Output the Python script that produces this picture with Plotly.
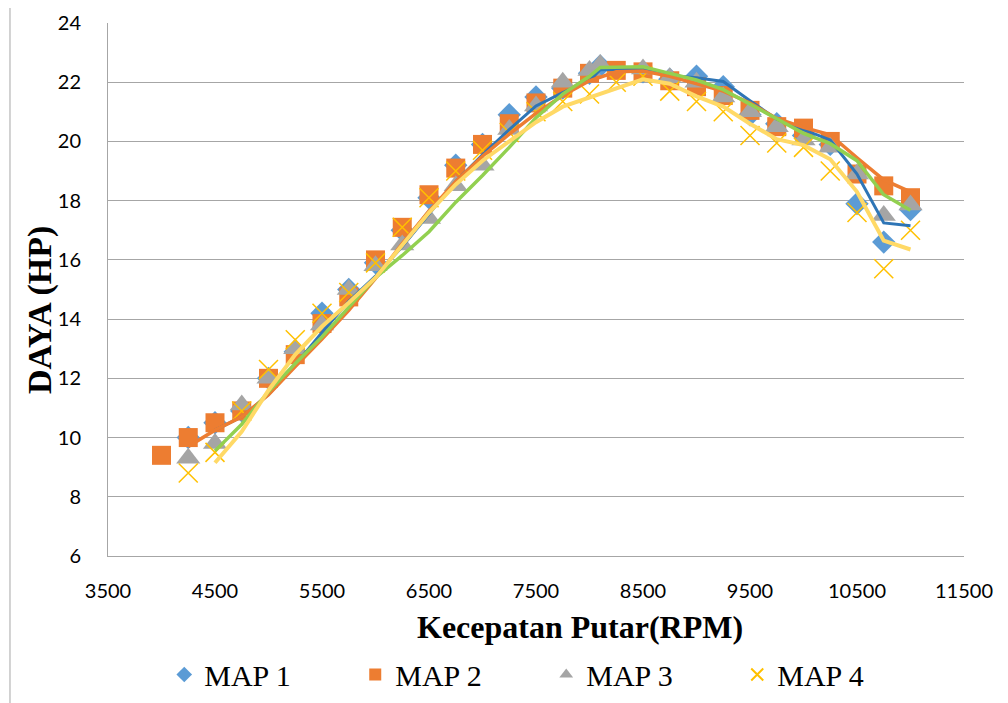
import plotly.graph_objects as go

# RPM values
rpm_map1 = [4250, 4500, 4750, 5000, 5250, 5500, 5750, 6000, 6250, 6500, 6750, 7000, 7250, 7500, 7750, 8000, 8100,
            8500, 8750, 9000, 9250, 9500, 9750, 10000, 10250, 10500, 10750, 11000]
hp_map1 = [10.0, 10.5, 10.9, 12.0, 12.9, 14.2, 15.0, 15.9, 17.0, 18.1, 19.2, 19.9, 20.9, 21.5, 21.8, 22.3, 22.55,
           22.35, 22.1, 22.2, 21.85, 20.9, 20.6, 20.2, 19.9, 17.9, 16.6, 17.7]

rpm_map2 = [4000, 4250, 4500, 4750, 5000, 5250, 5500, 5750, 6000, 6250, 6500, 6750, 7000, 7250, 7500, 7750, 8000,
            8250, 8500, 8750, 9000, 9250, 9500, 9750, 10000, 10250, 10500, 10750, 11000]
hp_map2 = [9.4, 10.0, 10.5, 10.9, 12.0, 12.8, 13.85, 14.75, 16.0, 17.1, 18.2, 19.1, 19.9, 20.6, 21.3, 21.8, 22.3,
           22.4, 22.35, 22.05, 21.85, 21.55, 21.05, 20.5, 20.45, 20.0, 18.9, 18.5, 18.1]

rpm_map3 = [4250, 4500, 4750, 5000, 5250, 5500, 5750, 6000, 6250, 6500, 6750, 7000, 7250, 7500, 7750, 8000, 8100,
            8500, 8750, 9000, 9250, 9500, 9750, 10000, 10250, 10500, 10750, 11000]
hp_map3 = [9.3, 9.8, 11.1, 12.0, 13.0, 13.8, 15.0, 15.8, 16.5, 17.4, 18.5, 19.2, 20.4, 21.2, 22.0, 22.4, 22.6,
           22.45, 22.15, 22.0, 21.5, 21.0, 20.5, 20.05, 19.8, 18.9, 17.5, 17.85]

rpm_map4 = [4250, 4500, 4750, 5000, 5250, 5500, 5750, 6000, 6250, 6500, 6750, 7000, 7250, 7500, 7750, 8000, 8250,
            8500, 8750, 9000, 9250, 9500, 9750, 10000, 10250, 10500, 10750, 11000]
hp_map4 = [8.8, 9.5, 10.9, 12.3, 13.3, 14.2, 14.9, 15.9, 17.1, 18.1, 19.0, 19.7, 20.3, 21.0, 21.35, 21.6, 22.0,
           22.2, 21.7, 21.35, 21.0, 20.2, 19.95, 19.8, 19.0, 17.6, 15.7, 17.0]

series_names = ["MAP 1", "MAP 2", "MAP 3", "MAP 4"]
x_ticks = [3500, 4500, 5500, 6500, 7500, 8500, 9500, 10500, 11500]
x_tick_labels = ["3500", "4500", "5500", "6500", "7500", "8500", "9500", "10500", "11500"]
y_ticks = [6, 8, 10, 12, 14, 16, 18, 20, 22, 24]
x_title = "<b>Kecepatan Putar(RPM)</b>"
y_title = "<b>DAYA (HP)</b>"


def moving_average(xs, ys, period=2):
    mx, my = [], []
    for i in range(period - 1, len(xs)):
        mx.append(xs[i])
        my.append(sum(ys[i - period + 1:i + 1]) / period)
    return mx, my


series = [
    (rpm_map1, hp_map1, dict(symbol="diamond", size=18, color="#5B9BD5"), "#2E75B6", 3),
    (rpm_map2, hp_map2, dict(symbol="square", size=19, color="#ED7D31"), "#ED7D31", 3.5),
    (rpm_map3, hp_map3, dict(symbol="triangle-up", size=21, color="#A5A5A5"), "#92D050", 3.5),
    (rpm_map4, hp_map4, dict(symbol="x-thin-open", size=19, color="#FFC000", line=dict(width=1.5, color="#FFC000")),
     "#FFD966", 4),
]

fig = go.Figure()
for (xs, ys, mk, lc, lw), name in zip(series, series_names):
    fig.add_trace(go.Scatter(x=xs, y=ys, mode="markers", name=name, marker=mk))
for (xs, ys, mk, lc, lw), name in zip(series, series_names):
    mx, my = moving_average(xs, ys)
    fig.add_trace(go.Scatter(x=mx, y=my, mode="lines", showlegend=False,
                             line=dict(color=lc, width=lw), hoverinfo="skip"))

serif = "Liberation Serif, Times New Roman, serif"

fig.update_layout(
    width=1008, height=703,
    paper_bgcolor="white", plot_bgcolor="white",
    margin=dict(l=100, r=52, t=15, b=155, autoexpand=False),
    font=dict(family="Lato, Carlito, sans-serif", size=20, color="black"),
    xaxis=dict(range=[3500, 11500], tickvals=x_ticks, ticktext=x_tick_labels, showgrid=False,
               showline=True, linecolor="#A6A6A6", linewidth=1, ticks="", zeroline=False,
               automargin=False, ticklabelstandoff=17, tickfont=dict(size=20)),
    yaxis=dict(range=[6, 24], tickvals=y_ticks, showgrid=True, gridcolor="#A6A6A6", gridwidth=1,
               showline=True, linecolor="#A6A6A6", linewidth=1, ticks="", zeroline=False,
               automargin=False, ticklabelstandoff=22, tickfont=dict(size=20)),
    legend=dict(orientation="h", xref="container", x=0.155, xanchor="left",
                yref="container", y=0.052, yanchor="middle",
                font=dict(family=serif, size=30),
                entrywidth=146, entrywidthmode="pixels", itemsizing="constant"),
    annotations=[
        dict(text=x_title, xref="paper", yref="paper", x=0.551, y=-0.133, showarrow=False,
             xanchor="center", yanchor="middle", font=dict(family=serif, size=32)),
        dict(text=y_title, xref="paper", yref="paper", x=-0.0794, y=0.4615, showarrow=False,
             textangle=-90, xanchor="center", yanchor="middle", font=dict(family=serif, size=34)),
    ],
    shapes=[dict(type="rect", xref="paper", yref="paper", x0=-0.1145, x1=1.2, y0=-0.35, y1=1.034,
                 line=dict(color="#A6A6A6", width=1), fillcolor="rgba(0,0,0,0)", layer="below")],
)

fig.write_html("out.html")
